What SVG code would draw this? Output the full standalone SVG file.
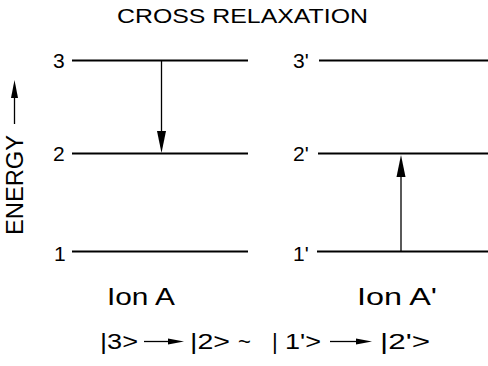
<svg xmlns="http://www.w3.org/2000/svg" width="488" height="366" viewBox="0 0 488 366">
<style>
text{font-family:"Liberation Sans","DejaVu Sans",sans-serif;fill:#000;}
.lvl{stroke:#000;stroke-width:2;fill:none;}
.arr{stroke:#000;stroke-width:1.3;fill:none;}
.head{fill:#000;stroke:none;}
.t{font-size:21px;}
.lab{font-size:21px;}
.ion{font-size:23px;}
.f{font-size:22px;}
</style>
<rect width="488" height="366" fill="#fff"/>
<text id="title" class="t" x="117" y="23" textLength="251" lengthAdjust="spacingAndGlyphs">CROSS  RELAXATION</text>
<g id="energy-axis">
<line class="arr" x1="14.5" y1="124" x2="14.5" y2="92"/>
<path class="head" d="M14.5,80 L18,98 L11,98 Z"/>
<text class="ion" transform="translate(23,185) rotate(-90)" text-anchor="middle" textLength="100" lengthAdjust="spacingAndGlyphs">ENERGY</text>
</g>
<g id="level-3"><line class="lvl" x1="72" y1="60.5" x2="248" y2="60.5"/><text class="lab" x="53" y="68">3</text></g>
<g id="level-2"><line class="lvl" x1="72" y1="153.5" x2="248" y2="153.5"/><text class="lab" x="53" y="161">2</text></g>
<g id="level-1"><line class="lvl" x1="72" y1="251.5" x2="248" y2="251.5"/><text class="lab" x="54" y="261">1</text></g>
<g id="level-3p"><line class="lvl" x1="319" y1="60.5" x2="488" y2="60.5"/><text class="lab" x="293" y="68">3'</text></g>
<g id="level-2p"><line class="lvl" x1="318" y1="153.5" x2="488" y2="153.5"/><text class="lab" x="293" y="161">2'</text></g>
<g id="level-1p"><line class="lvl" x1="317" y1="251.5" x2="488" y2="251.5"/><text class="lab" x="293" y="261">1'</text></g>
<g id="connectors">
<line class="arr" x1="161.5" y1="61" x2="161.5" y2="140"/>
<path class="head" d="M161.5,153 L157,131 L166,131 Z"/>
<line class="arr" x1="401" y1="251" x2="401" y2="170"/>
<path class="head" d="M401,155 L396.5,177 L405.5,177 Z"/>
</g>
<text id="ionA" class="ion" x="107" y="305" textLength="68" lengthAdjust="spacingAndGlyphs">Ion  A</text>
<text id="ionAp" class="ion" x="357" y="305" textLength="80" lengthAdjust="spacingAndGlyphs">Ion  A'</text>
<g id="formula">
<text class="f" x="100" y="349" textLength="38" lengthAdjust="spacingAndGlyphs">|3&gt;</text>
<line class="arr" x1="144" y1="341.5" x2="172" y2="341.5"/>
<path class="head" d="M184,341.5 L168,338.5 L168,344.5 Z"/>
<text class="f" x="190" y="349" textLength="40" lengthAdjust="spacingAndGlyphs">|2&gt;</text>
<text class="f" x="238" y="349">~</text>
<text class="f" x="272" y="349">|</text>
<text class="f" x="285" y="349" textLength="36" lengthAdjust="spacingAndGlyphs">1'&gt;</text>
<line class="arr" x1="330" y1="341.5" x2="360" y2="341.5"/>
<path class="head" d="M372,341.5 L356,338.5 L356,344.5 Z"/>
<text class="f" x="380" y="349" textLength="50" lengthAdjust="spacingAndGlyphs">|2'&gt;</text>
</g>
</svg>
